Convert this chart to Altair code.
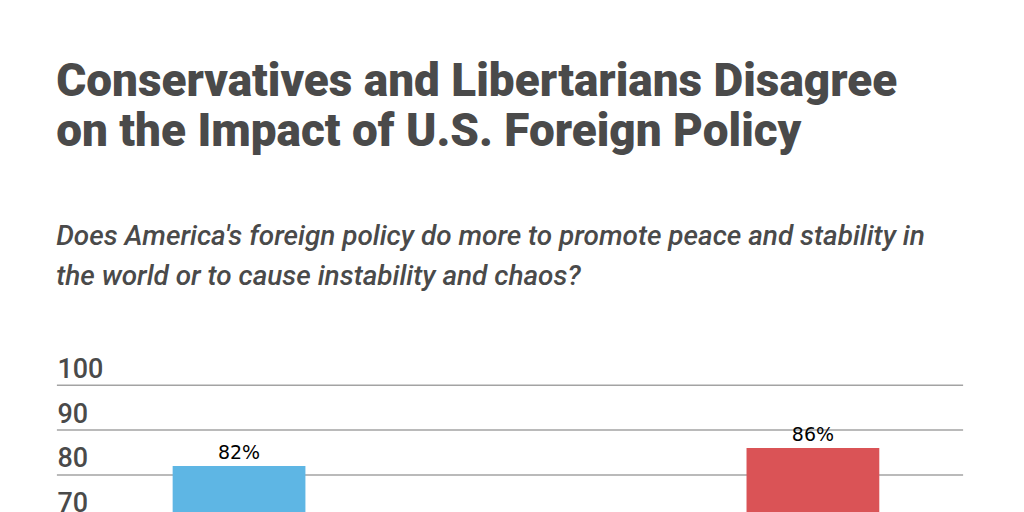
import altair as alt
import pandas as pd

# ─── Data ─────────────────────────────────────────────────────────────────────

groups = ["Conservatives", "Libertarians"]
series = ["Promote peace and stability", "Cause instability and chaos"]
promote_values = [82, 14]
cause_values = [18, 86]
y_ticks = [0, 10, 20, 30, 40, 50, 60, 70, 80, 90, 100]

title_lines = [
    "Conservatives and Libertarians Disagree",
    "on the Impact of U.S. Foreign Policy",
]
subtitle_lines = [
    "Does America's foreign policy do more to promote peace and stability in",
    "the world or to cause instability and chaos?",
]

rows = []
for g, p, c in zip(groups, promote_values, cause_values):
    rows.append({"group": g, "series": series[0], "value": p})
    rows.append({"group": g, "series": series[1], "value": c})
df = pd.DataFrame(rows)
df["label"] = df["value"].astype(str) + "%"
ticks_df = pd.DataFrame({"value": y_ticks})

# ─── Chart ────────────────────────────────────────────────────────────────────

TEXT = "#4a4a4a"
W, H = 908, 450

x_enc = alt.X(
    "group:N", sort=groups, title=None,
    scale=alt.Scale(range=[32, W], paddingInner=0.398, paddingOuter=0.19),
    axis=alt.Axis(labelFont="Roboto", labelFontSize=18, labelColor=TEXT,
                  domain=False, ticks=False, labelAngle=0, grid=False),
)
xo_enc = alt.XOffset("series:N", sort=series, scale=alt.Scale(paddingInner=0))
y_enc = alt.Y(
    "value:Q", title=None,
    scale=alt.Scale(domain=[0, 100], nice=False),
    axis=alt.Axis(
        values=y_ticks, grid=False,
        domain=False, ticks=False, tickSize=0, labelPadding=0,
        labelAlign="left", labelBaseline="alphabetic", labelOffset=-8,
        labelFont="Roboto", labelFontSize=27, labelFontWeight=500,
        labelColor=TEXT, labelBound=False, labelFlush=False, labelOverlap=False,
    ),
)

# gridlines span the full plot width (axis grid would follow the x range)
grid = alt.Chart(ticks_df).mark_rule(color="#a3a3a3", strokeWidth=1.5).encode(
    y=y_enc, x=alt.value(0), x2=alt.value(W),
)

bars = alt.Chart(df).mark_bar().encode(
    x=x_enc, xOffset=xo_enc, y=y_enc,
    color=alt.Color(
        "series:N", sort=series, title=None,
        scale=alt.Scale(domain=series, range=["#5eb6e4", "#da5356"]),
        legend=alt.Legend(orient="bottom", labelFont="Roboto", labelFontSize=16),
    ),
)

labels = alt.Chart(df).mark_text(
    dy=-7, baseline="alphabetic", font="DejaVu Sans", fontSize=19, color="#000000"
).encode(x=x_enc, xOffset=xo_enc, y=y_enc, text="label:N")

chart = (
    (grid + bars + labels)
    .properties(
        width=W, height=H,
        padding={"left": 48, "top": 50, "right": 52, "bottom": 20},
        title=alt.TitleParams(
            text=title_lines, anchor="start", font="Roboto", fontSize=46,
            fontWeight=900, color=TEXT, lineHeight=50,
            subtitle=subtitle_lines, subtitleFont="Roboto", subtitleFontSize=28,
            subtitleFontStyle="italic", subtitleFontWeight=500,
            subtitleColor=TEXT, subtitleLineHeight=40, subtitlePadding=68,
            offset=63,
        ),
    )
    .configure_view(strokeWidth=0)
)

chart.save("out.html", embed_options={"renderer": "svg", "actions": False})
